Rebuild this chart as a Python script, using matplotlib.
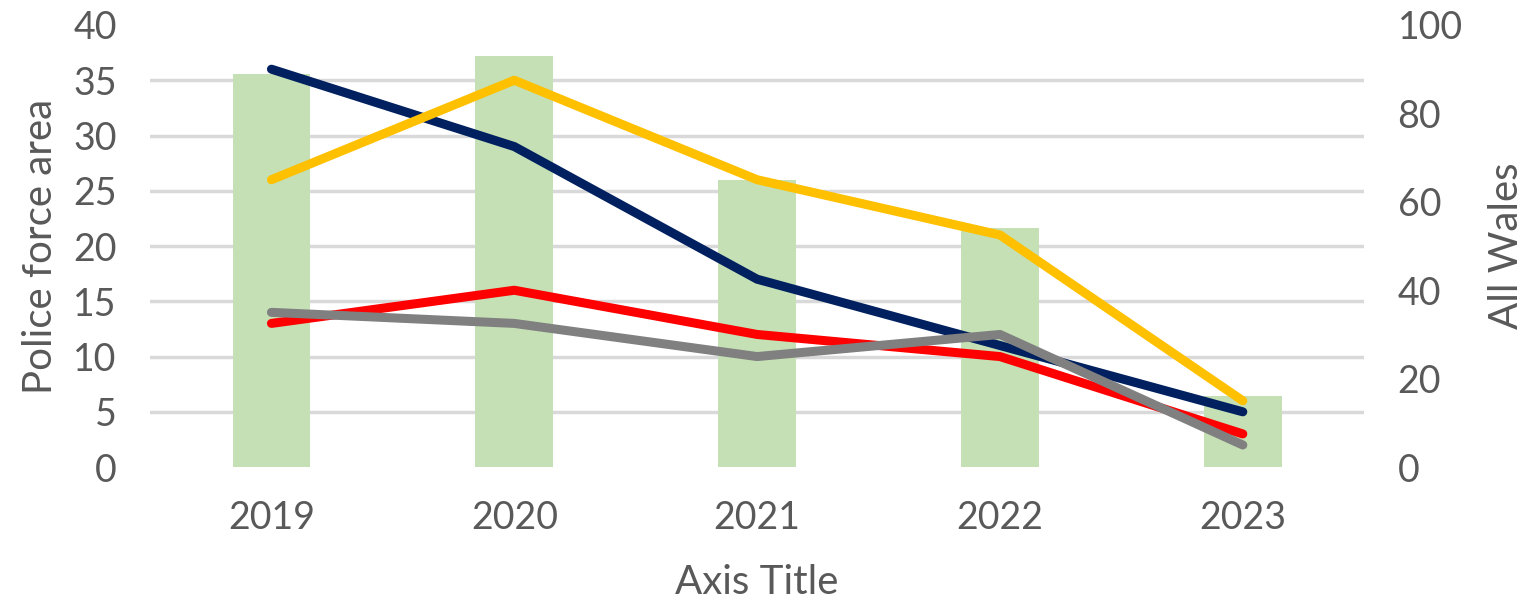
import matplotlib.pyplot as plt
import numpy as np

years = ['2019', '2020', '2021', '2022', '2023']
all_wales = [89, 93, 65, 54, 16]
navy_series = [36, 29, 17, 11, 5]
yellow_series = [26, 35, 26, 21, 6]
red_series = [13, 16, 12, 10, 3]
grey_series = [14, 13, 10, 12, 2]

plt.rcParams['font.family'] = ['Lato', 'DejaVu Sans']
txt = '#595959'

fig = plt.figure(figsize=(15.37, 6.09), dpi=100)
ax = fig.add_axes([0.0976, 0.233, 0.79, 0.726])
ax2 = ax.twinx()

x = np.arange(len(years))

# bars on the right axis, kept underneath the lines
ax2.bar(x, all_wales, width=0.32, color='#C5E0B4', zorder=2)
ax2.set_ylim(0, 100)
ax2.set_yticks(np.arange(0, 101, 20))
ax2.set_yticks(np.linspace(0, 100, 9), minor=True)
ax2.grid(which='minor', axis='y', color='#D9D9D9', lw=2.5, zorder=0)
ax2.set_axisbelow(True)
ax2.set_ylabel('All Wales', fontsize=29, color=txt, labelpad=18)

ax.set_zorder(ax2.get_zorder() + 1)
ax.patch.set_visible(False)

for vals, c in [(navy_series, '#002060'), (yellow_series, '#FFC000'),
                (red_series, '#FF0000'), (grey_series, '#808080')]:
    ax.plot(x, vals, color=c, lw=6.5, solid_capstyle='round', zorder=3)

ax.set_xlim(-0.5, len(years) - 0.5)
ax.set_ylim(0, 40)
ax.set_yticks(np.arange(0, 41, 5))
ax.set_xticks(x)
ax.set_xticklabels(years)
ax.set_xlabel('Axis Title', fontsize=29, color=txt, labelpad=20)
ax.set_ylabel('Police force area', fontsize=29, color=txt, labelpad=10)

for a in (ax, ax2):
    for s in a.spines.values():
        s.set_visible(False)
    a.tick_params(which='both', length=0, labelsize=27, labelcolor=txt)
ax.tick_params(axis='x', pad=24)
ax.tick_params(axis='y', pad=24)
ax2.tick_params(axis='y', pad=24)

fig.savefig('out.png', dpi=100)
